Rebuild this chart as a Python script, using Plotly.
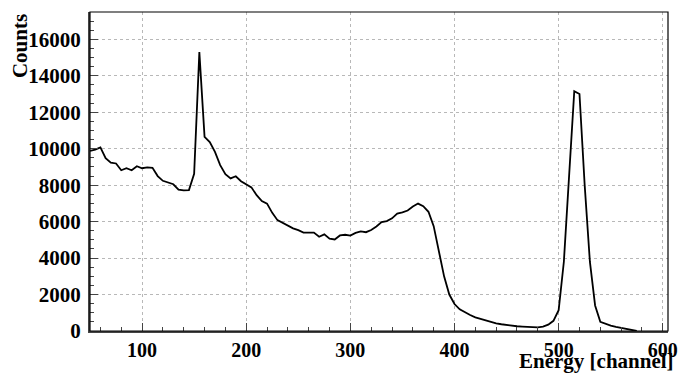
import plotly.graph_objects as go

channels = list(range(50, 580, 5))
counts = [
    9880, 9950, 10070, 9480, 9240, 9190, 8820, 8930, 8820, 9040,   # 50-95
    8930, 8980, 8950, 8500, 8240, 8160, 8050, 7760, 7710, 7730,    # 100-145
    8620, 15300, 10650, 10360, 9830, 9100, 8600, 8370, 8490, 8220, # 150-195
    8040, 7880, 7450, 7130, 6990, 6480, 6080, 5920, 5770, 5630,    # 200-245
    5530, 5400, 5400, 5400, 5170, 5300, 5070, 5020, 5240, 5280,    # 250-295
    5230, 5380, 5460, 5420, 5540, 5730, 5970, 6030, 6180, 6440,    # 300-345
    6510, 6610, 6830, 6990, 6850, 6540, 5750, 4350, 3000, 2000,    # 350-395
    1480, 1190, 1020, 880, 750, 660, 580, 490, 420, 370,           # 400-445
    320, 285, 260, 240, 220, 210, 195, 240, 350, 560,              # 450-495
    1140, 3800, 8500, 13150, 13000, 8000, 3800, 1400, 500, 380,    # 500-545
    300, 230, 170, 90, 30, 0,                                      # 550-575
]

x_tick_vals = [100, 200, 300, 400, 500, 600]
y_tick_vals = [0, 2000, 4000, 6000, 8000, 10000, 12000, 14000, 16000]

x_title = "Energy [channel]"
y_title = "Counts"

FONT = "Liberation Serif"

fig = go.Figure()
fig.add_trace(go.Scatter(
    x=channels, y=counts, mode="lines",
    line=dict(color="black", width=1.8),
    hoverinfo="skip", showlegend=False,
))

fig.update_layout(
    width=679, height=376,
    margin=dict(l=90, r=11, t=12, b=45, autoexpand=False),
    paper_bgcolor="white", plot_bgcolor="white",
    font=dict(family=FONT, size=20, color="black"),
    shapes=[dict(type="rect", xref="paper", yref="paper", x0=0, y0=0, x1=1, y1=1,
                 line=dict(color="black", width=1.2), layer="above")],
    annotations=[
        dict(text="<b>" + x_title + "</b>", xref="paper", yref="paper",
             x=1.013, y=-0.093, xanchor="right", yanchor="middle",
             showarrow=False, font=dict(family=FONT, size=21, color="black")),
        dict(text="<b>" + y_title + "</b>", xref="paper", yref="paper",
             x=-0.121, y=1.0, xanchor="center", yanchor="top", textangle=-90,
             showarrow=False, font=dict(family=FONT, size=21, color="black")),
    ],
)

fig.update_xaxes(
    range=[50, 605], tickmode="array", tickvals=x_tick_vals,
    ticktext=["<b>%d</b>" % v for v in x_tick_vals], automargin=False,
    ticks="inside", ticklen=8, tickwidth=1, tickcolor="#444",
    minor=dict(tickmode="linear", tick0=0, dtick=20, ticks="inside", ticklen=4,
               tickcolor="#444", showgrid=False),
    showgrid=True, gridcolor="#b8b8b8", griddash="dot", gridwidth=1,
    showline=True, linecolor="#444", linewidth=2, zeroline=False,
    tickfont=dict(family=FONT, size=20, color="black"),
)
fig.update_yaxes(
    range=[0, 17500], tickmode="array", tickvals=y_tick_vals,
    ticktext=["<b>%d</b>" % v for v in y_tick_vals], automargin=False,
    ticks="inside", ticklen=8, tickwidth=1, tickcolor="#444",
    ticklabelstandoff=3,
    minor=dict(tickmode="linear", tick0=0, dtick=500, ticks="inside", ticklen=4,
               tickcolor="#444", showgrid=False),
    showgrid=True, gridcolor="#b8b8b8", griddash="dot", gridwidth=1,
    showline=True, linecolor="#444", linewidth=2, zeroline=False,
    tickfont=dict(family=FONT, size=21, color="black"),
)

fig.write_html("out.html", config={"displayModeBar": False},
               post_script="document.body.style.margin='0';document.body.style.padding='0';")
